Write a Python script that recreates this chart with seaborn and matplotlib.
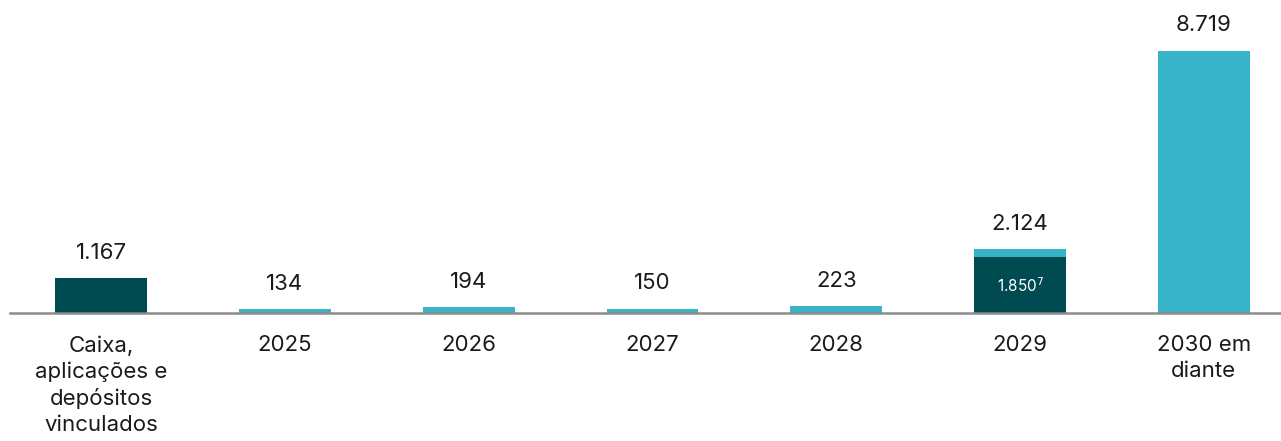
import numpy as np
import pandas as pd
import matplotlib
matplotlib.use('Agg')
import matplotlib.pyplot as plt
import seaborn as sns

sns.set_theme(style='white')
plt.rcParams['font.family'] = ['Inter', 'DejaVu Sans']

# data
categories = ['Caixa,\naplicações e\ndepósitos\nvinculados', '2025', '2026', '2027',
              '2028', '2029', '2030 em\ndiante']
totals = [1167, 134, 194, 150, 223, 2124, 8719]
dark_part = [1167, 0, 0, 0, 0, 1850, 0]
inner_labels = ['', '', '', '', '', '1.850$^{7}$', '']

light = '#38B4C8'
dark = '#004B52'

df = pd.DataFrame({'cat': categories, 'total': totals, 'dark': dark_part})

fig, ax = plt.subplots(figsize=(12.81, 4.41), dpi=100)
fig.subplots_adjust(left=0.008, right=1.0, bottom=0.29, top=0.885)

sns.barplot(data=df, x='cat', y='total', color=light, width=0.5, ax=ax,
            saturation=1, linewidth=0)
sns.barplot(data=df, x='cat', y='dark', color=dark, width=0.5, ax=ax,
            saturation=1, linewidth=0)

def fmt(v):
    return f'{v:,}'.replace(',', '.')

for i, v in enumerate(totals):
    ax.annotate(fmt(v), (i, v), xytext=(0, 11), textcoords='offset points',
                ha='center', va='bottom', fontsize=16, color='#1a1a1a')
for i, (d, lab) in enumerate(zip(dark_part, inner_labels)):
    if lab:
        ax.text(i, d / 2, lab, ha='center', va='center', fontsize=11, color='white')

ax.set_xlim(-0.495, 6.42)
ax.set_ylim(0, 8719)
sns.despine(ax=ax, left=True)
ax.spines['bottom'].set_color('#8c8c8c')
ax.spines['bottom'].set_linewidth(1.8)
ax.set_yticks([])
ax.set_xlabel('')
ax.set_ylabel('')
ax.tick_params(axis='x', length=0, pad=16, labelsize=16, colors='#1a1a1a')
for t in ax.get_xticklabels():
    t.set_linespacing(1.35)
    t.set_verticalalignment('top')

fig.savefig('out.png', dpi=100)
